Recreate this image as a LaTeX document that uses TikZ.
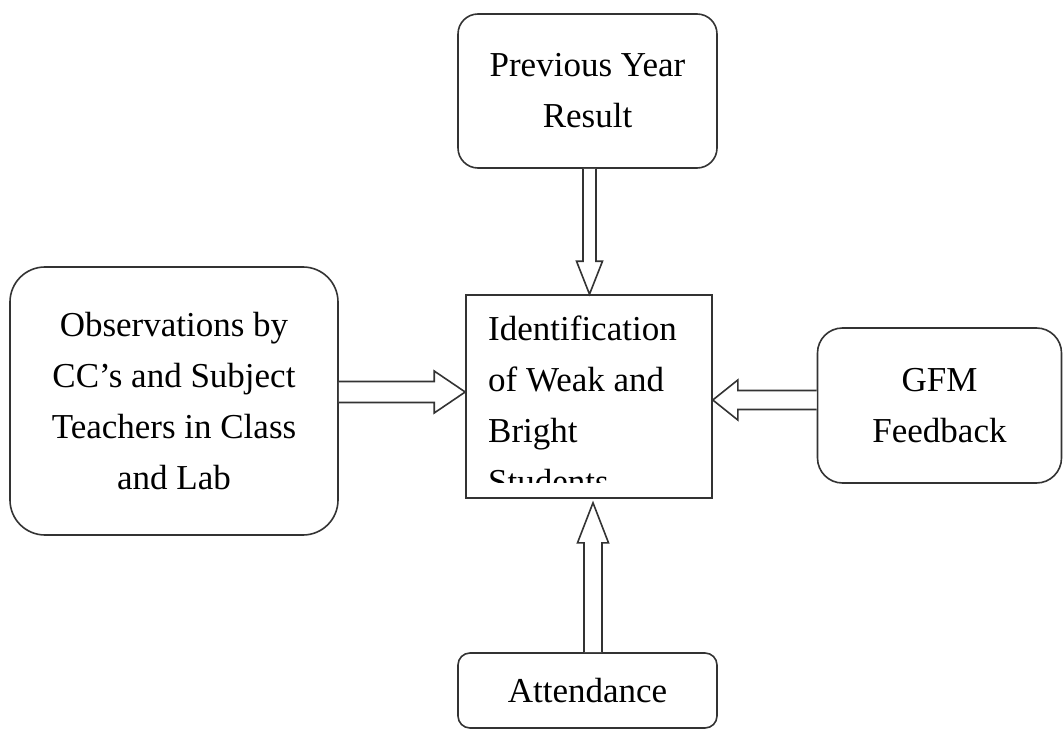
\documentclass[tikz,border=0pt]{standalone}
\usepackage{fontspec}
\setmainfont{Liberation Serif}
\usetikzlibrary{calc}
\begin{document}
\begin{tikzpicture}[x=1pt,y=-1pt,
  box/.style={draw=black!80, line width=1.6pt, fill=white, inner sep=0pt, align=center,
    font=\fontsize{35}{51}\selectfont},
  lbl/.style={inner sep=0pt, align=left, font=\fontsize{35}{51}\selectfont},
  barrow/.style={draw=black!80, line width=1.6pt, line join=miter, fill=white}]
\useasboundingbox (0,0) rectangle (1063,730);

\node[box, rounded corners=20pt, minimum width=259pt, minimum height=154pt] (prev) at (587.5,91) {Previous Year\\Result};
\node[box, minimum width=246pt, minimum height=203pt] (ident) at (589,396.5) {};
\node[box, rounded corners=35pt, minimum width=328pt, minimum height=268pt] (obs) at (174,401) {Observations by\\CC’s and Subject\\Teachers in Class\\and Lab};
\node[box, rounded corners=25pt, minimum width=244pt, minimum height=155pt] (gfm) at (939.5,405.5) {GFM\\Feedback};
\node[box, rounded corners=12pt, minimum width=259pt, minimum height=75pt] (att) at (587.5,690.5) {Attendance};

\begin{scope}
  \clip ($(ident.north west)+(2,2)$) rectangle ($(ident.south east)+(-2,-16)$);
  \node[lbl, anchor=north west] (identtext) at (488,316) {Identification\\of Weak and\\Bright\\Students};
\end{scope}

% down arrow: prev -> ident
\coordinate (t1) at ($(ident.north)+(0.5,0)$);
\draw[barrow] ($(t1 |- prev.south)+(-6.5,0)$) -- ($(t1)+(-6.5,-33)$) -- ($(t1)+(-13,-33)$)
  -- (t1) -- ($(t1)+(13,-33)$) -- ($(t1)+(6.5,-33)$) -- ($(t1 |- prev.south)+(6.5,0)$);

% right arrow: obs -> ident
\coordinate (t2) at ($(ident.west)+(0,-4.5)$);
\draw[barrow] ($(obs.east |- t2)+(0,-10.5)$) -- ($(t2)+(-31,-10.5)$) -- ($(t2)+(-31,-21)$)
  -- (t2) -- ($(t2)+(-31,21)$) -- ($(t2)+(-31,10.5)$) -- ($(obs.east |- t2)+(0,10.5)$);

% left arrow: gfm -> ident
\coordinate (t3) at ($(ident.east)+(0,3.5)$);
\draw[barrow] ($(gfm.west |- t3)+(0,-9.5)$) -- ($(t3)+(25,-9.5)$) -- ($(t3)+(25,-20)$)
  -- (t3) -- ($(t3)+(25,20)$) -- ($(t3)+(25,9.5)$) -- ($(gfm.west |- t3)+(0,9.5)$);

% up arrow: att -> ident
\coordinate (t4) at ($(ident.south)+(4,4)$);
\draw[barrow] ($(t4 |- att.north)+(-9,0)$) -- ($(t4)+(-9,40)$) -- ($(t4)+(-15.5,40)$)
  -- (t4) -- ($(t4)+(15.5,40)$) -- ($(t4)+(9,40)$) -- ($(t4 |- att.north)+(9,0)$);
\end{tikzpicture}
\end{document}
